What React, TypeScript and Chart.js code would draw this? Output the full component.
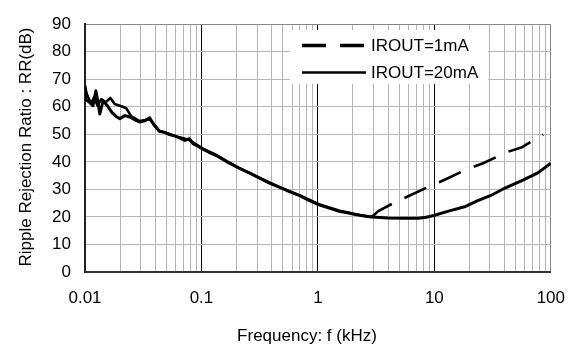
import React, { useEffect, useRef } from 'react';
import { Chart, registerables } from 'chart.js';

Chart.register(...registerables);

// ---- data ----
const seriesNames = ['IROUT=1mA', 'IROUT=20mA'];

const freq1mA = [0.01, 0.0105, 0.0113, 0.012, 0.0128, 0.0138, 0.015, 0.0165, 0.018, 0.0205, 0.0225, 0.025,
  0.0295, 0.0359, 0.0437, 0.0532, 0.0648, 0.0788, 0.102, 0.134, 0.166, 0.21, 0.313, 0.465, 0.69, 1.02,
  1.51, 2.1, 2.9, 3.3, 4.4, 5.96, 9.3, 12.4, 19.4, 26.2, 41.7, 55.8, 86];
const rr1mA = [67, 64, 61.2, 63.5, 60.5, 62.8, 61.6, 63.2, 61, 60.2, 59.6, 56.5,
  54.8, 55.5, 51.2, 50.1, 48.9, 47.9, 44.9, 42.5, 40.2, 37.8, 34.3, 30.9, 27.9, 24.6,
  22.3, 21.0, 20.0, 22.1, 24.9, 27.5, 31.3, 33.6, 37.5, 39.5, 43.5, 45.2, 49.9];

const freq20mA = [0.01, 0.0102, 0.011, 0.0117, 0.0124, 0.013, 0.0134, 0.0143, 0.0155, 0.017, 0.0185, 0.0199,
  0.022, 0.0242, 0.027, 0.0295, 0.033, 0.0359, 0.039, 0.0437, 0.048, 0.0532, 0.058, 0.0648, 0.072, 0.0788,
  0.085, 0.0925, 0.102, 0.12, 0.134, 0.166, 0.21, 0.26, 0.313, 0.38, 0.465, 0.57, 0.69, 0.84, 1.02, 1.25,
  1.51, 1.8, 2.1, 2.5, 2.9, 4.0, 5.5, 7.3, 8.5, 9.9, 13.2, 18.5, 23.6, 30.6, 40.4, 55.8, 77.4, 100];
const rr20mA = [67.8, 62.6, 61.5, 60.4, 65.8, 61, 57.4, 62.2, 60.5, 58, 56.5, 55.7,
  56.8, 56.3, 55.2, 54.5, 55, 56, 53.5, 51, 50.8, 49.9, 49.5, 48.7, 47.8, 48.4,
  46.5, 45.8, 44.7, 43.2, 42.3, 40, 37.7, 35.9, 34.2, 32.4, 30.8, 29.2, 27.8, 26, 24.4, 23.2,
  22.1, 21.5, 20.9, 20.3, 20.0, 19.6, 19.5, 19.5, 19.9, 20.5, 22.1, 23.8, 25.9, 27.8, 30.5, 33.1, 36.0, 39.5];

const decades = [0.01, 0.1, 1, 10, 100];
const xTickLabels = ['0.01', '0.1', '1', '10', '100'];
const minorMultipliers = [1, 2, 3, 4, 5, 6, 7, 8, 9];
const yTickValues = [0, 10, 20, 30, 40, 50, 60, 70, 80, 90];

const xTitle = 'Frequency: f (kHz)';
const yTitle = 'Ripple Rejection Ratio : RR(dB)';

// ---- styles ----
const FONT_FAMILY = '"Liberation Sans", Arial, Helvetica, sans-serif';
const FONT_SIZE = 17;
const DASH = [24, 14];
const TEXT_COLOR = '#000';

const gridValues: number[] = [];
decades.forEach((d, i) => {
  if (i === decades.length - 1) gridValues.push(d);
  else minorMultipliers.forEach((m) => gridValues.push(m * d));
});

const isNear = (a: number, b: number) => Math.abs(a - b) < Math.abs(b) * 1e-6;

const legendPlugin = {
  id: 'boxLegend',
  beforeDatasetsDraw(chart: any) {
    const { ctx } = chart;
    ctx.save();
    ctx.fillStyle = '#ffffff';
    ctx.fillRect(290, 30, 198, 54);
    const items = [
      { y: 45.5, dash: DASH, width: 3.5, label: seriesNames[0] },
      { y: 72.5, dash: [] as number[], width: 2.5, label: seriesNames[1] },
    ];
    items.forEach((it) => {
      ctx.beginPath();
      ctx.setLineDash(it.dash);
      ctx.lineWidth = it.width;
      ctx.strokeStyle = '#000';
      ctx.moveTo(302, it.y);
      ctx.lineTo(366, it.y);
      ctx.stroke();
      ctx.setLineDash([]);
      ctx.fillStyle = TEXT_COLOR;
      ctx.font = `${FONT_SIZE}px ${FONT_FAMILY}`;
      ctx.textAlign = 'left';
      ctx.textBaseline = 'middle';
      ctx.fillText(it.label, 371, it.y + 1);
    });
    ctx.restore();
  },
};

const titlesPlugin = {
  id: 'axisTitles',
  afterDraw(chart: any) {
    const { ctx } = chart;
    ctx.save();
    ctx.fillStyle = TEXT_COLOR;
    ctx.font = `${FONT_SIZE}px ${FONT_FAMILY}`;
    ctx.textAlign = 'center';
    ctx.textBaseline = 'middle';
    ctx.fillText(xTitle, 307, 336);
    ctx.translate(26, 147);
    ctx.rotate(-Math.PI / 2);
    ctx.fillText(yTitle, 0, 0);
    ctx.restore();
  },
};

export default function App() {
  const canvasRef = useRef<HTMLCanvasElement | null>(null);

  useEffect(() => {
    if (!canvasRef.current) return;
    const font = { family: FONT_FAMILY, size: FONT_SIZE };
    const chart = new Chart(canvasRef.current, {
      type: 'line',
      data: {
        datasets: [
          {
            label: seriesNames[1],
            data: freq20mA.map((f, i) => ({ x: f, y: rr20mA[i] })),
            borderColor: '#000',
            borderWidth: 3,
            pointRadius: 0,
            tension: 0,
            fill: false,
            borderJoinStyle: 'round',
            order: 0,
          },
          {
            label: seriesNames[0],
            data: freq1mA.map((f, i) => ({ x: f, y: rr1mA[i] })),
            borderColor: '#000',
            borderWidth: 2.6,
            pointRadius: 0,
            tension: 0,
            fill: false,
            borderDash: [],
            borderJoinStyle: 'round',
            order: 1,
            segment: {
              borderDash: (c: any) => (c.p0.parsed.x >= 2.85 ? DASH : undefined),
            },
          },
        ],
      },
      options: {
        animation: false,
        responsive: false,
        devicePixelRatio: 1,
        layout: { padding: { left: 0, top: 13, right: 28, bottom: 0 } },
        plugins: { legend: { display: false }, tooltip: { enabled: false } },
        scales: {
          x: {
            type: 'logarithmic',
            min: 0.01,
            max: 100,
            afterBuildTicks: (s: any) => {
              s.ticks = gridValues.map((v) => ({ value: v }));
            },
            afterFit: (s: any) => {
              s.height = 77;
            },
            ticks: {
              autoSkip: false,
              maxRotation: 0,
              minRotation: 0,
              padding: 16,
              font,
              color: TEXT_COLOR,
              callback: (v: any) => {
                const i = decades.findIndex((d) => isNear(Number(v), d));
                return i >= 0 ? xTickLabels[i] : '';
              },
            },
            grid: {
              drawTicks: false,
              color: (c: any) => {
                const v = c.tick ? c.tick.value : 0;
                if (isNear(v, 100)) return '#888888';
                if (isNear(v, 0.01)) return '#333333';
                if (decades.some((d) => isNear(v, d))) return '#000000';
                return '#b4b4b4';
              },
              lineWidth: 1,
            },
            border: { color: '#333333', width: 2 },
          },
          y: {
            type: 'linear',
            min: 0,
            max: 90,
            afterBuildTicks: (s: any) => {
              s.ticks = yTickValues.map((v) => ({ value: v }));
            },
            afterFit: (s: any) => {
              s.width = 85;
            },
            ticks: {
              padding: 14,
              font,
              color: TEXT_COLOR,
              callback: (v: any) => String(v),
            },
            grid: {
              drawTicks: false,
              color: (c: any) => {
                const v = c.tick ? c.tick.value : 0;
                if (v === 90) return '#888888';
                return '#b8b8b8';
              },
              lineWidth: 1,
            },
            border: { color: '#222222', width: 2 },
          },
        },
      },
      plugins: [legendPlugin, titlesPlugin],
    } as any);
    return () => chart.destroy();
  }, []);

  return (
    <div style={{ position: 'absolute', left: 0, top: 0, width: 581, height: 349, background: '#fff' }}>
      <canvas ref={canvasRef} width={581} height={349} style={{ display: 'block', width: 581, height: 349 }} />
    </div>
  );
}
